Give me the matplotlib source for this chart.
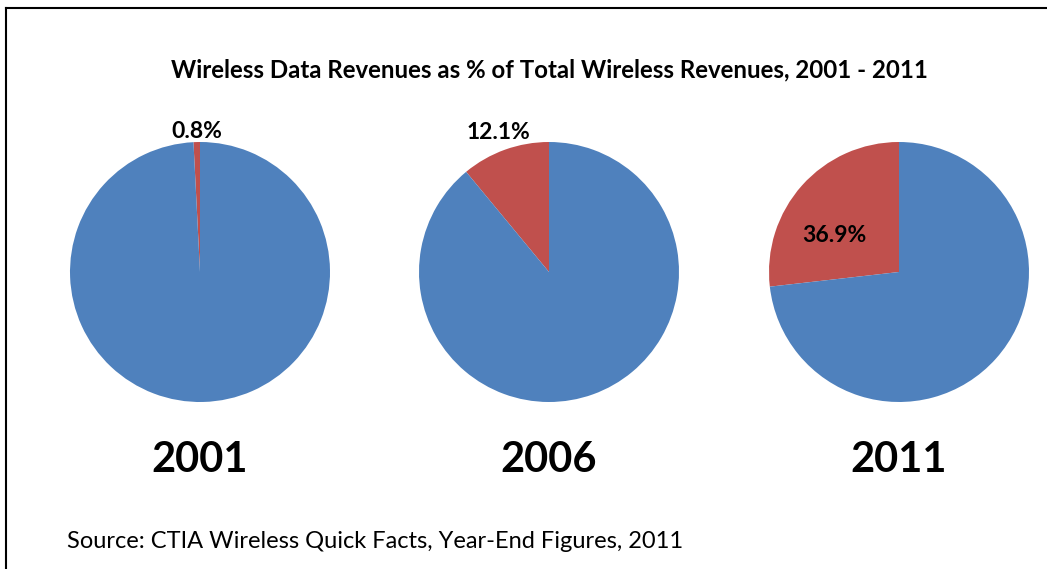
import numpy as np
import matplotlib.pyplot as plt

# values (wedge sizes as drawn, labels as printed)
years = ['2001', '2006', '2011']
data_share = [0.8, 11.0, 26.8]
data_labels = ['0.8%', '12.1%', '36.9%']
title = 'Wireless Data Revenues as % of Total Wireless Revenues, 2001 - 2011'
source = 'Source: CTIA Wireless Quick Facts, Year-End Figures, 2011'

blue = '#4F81BD'
red = '#C0504D'

W, H = 1047, 569
plt.rcParams['font.family'] = ['Lato', 'DejaVu Sans']

fig = plt.figure(figsize=(W / 100, H / 100), dpi=100)
fig.patch.set_facecolor('white')

# pie placement in pixels
centers_x = [200, 549, 899]
center_y = 272
r = 130
label_dist = [1.08, 1.14, 0.57]
label_shift = [0, 0, 12]  # degrees, nudge of label angle

for i in range(3):
    ax = fig.add_axes([(centers_x[i] - r) / W, 1 - (center_y + r) / H, 2 * r / W, 2 * r / H])
    share = data_share[i]
    wedges, _ = ax.pie([share, 100 - share], colors=[red, blue], startangle=90,
                       counterclock=True, radius=1, wedgeprops=dict(linewidth=0))
    ax.set_xlim(-1, 1)
    ax.set_ylim(-1, 1)
    ax.set_aspect('equal')
    ax.axis('off')
    mid = np.deg2rad(90 + share * 3.6 / 2 + label_shift[i])
    ax.text(label_dist[i] * np.cos(mid), label_dist[i] * np.sin(mid), data_labels[i],
            ha='center', va='center', fontsize=16.5, fontweight='bold', color='black',
            clip_on=False)
    fig.text(centers_x[i] / W, 1 - 460 / H, years[i], ha='center', va='center',
             fontsize=30, fontweight='bold', color='black')

fig.text(549 / W, 1 - 70 / H, title, ha='center', va='center', fontsize=17.3,
         fontweight='bold', color='black')
fig.text(67 / W, 1 - 541 / H, source, ha='left', va='center', fontsize=17, color='black')

# frame lines (left and top)
fig.add_artist(plt.Line2D([6 / W, 6 / W], [0, 1 - 8 / H], color='black', linewidth=1.5))
fig.add_artist(plt.Line2D([6 / W, 1], [1 - 8 / H, 1 - 8 / H], color='black', linewidth=1.5))

fig.savefig('out.png', dpi=100, facecolor='white')
